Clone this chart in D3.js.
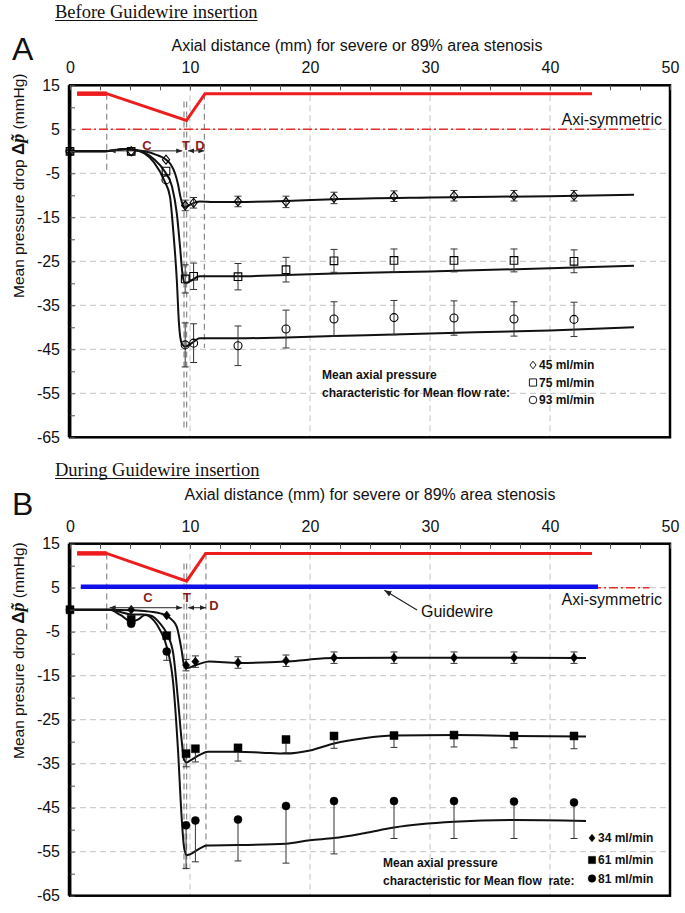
<!DOCTYPE html>
<html><head><meta charset="utf-8">
<script src="https://cdn.jsdelivr.net/npm/d3@7"></script>
<style>body{margin:0;background:#fff} svg{display:block}</style>
</head><body><svg id="c" width="685" height="913"></svg>
<script>
// ---------- shared axis data ----------
const xTicks = [0, 10, 20, 30, 40, 50];
const yTicks = [15, 5, -5, -15, -25, -35, -45, -55, -65];
const xGrid = [10, 20, 30, 40];

// ---------- Panel A : before guidewire insertion ----------
const aMarkX = [0, 5.1, 8, 9.6, 10.3, 14, 18, 22, 27, 32, 37, 42];
const a45 = [0, 0, -1.9, -12.3, -11.7, -11.4, -11.5, -10.6, -10.2, -10.1, -10.1, -10.1];
const a45Err = [0, 0, 0, 1.2, 1.2, 1.2, 1.3, 1.3, 1.2, 1.2, 1.2, 1.2];
const a75 = [0, 0, -4.5, -29.0, -28.4, -28.5, -26.9, -24.9, -24.8, -24.8, -24.8, -25.0];
const a75Err = [0, 0, 0, 3.2, 3.0, 3.0, 2.8, 2.6, 2.6, 2.6, 2.6, 2.6];
const a93 = [0, 0, -6.5, -44.0, -43.6, -44.2, -40.4, -38.1, -37.8, -37.9, -38.1, -38.2];
const a93Err = [0, 0, 0, 5.0, 4.4, 4.5, 4.3, 3.9, 3.9, 3.9, 3.9, 3.9];

const a45CurveX = [0, 3, 3.8, 4.6, 5.4, 6.2, 7.2, 7.9, 8.4, 8.75, 9.0, 9.2, 9.4, 9.55, 9.75, 10.1, 10.8, 12, 14, 18, 22, 30, 40, 47];
const a45CurveY = [0, 0, 0.3, 0.5, 0.3, 0, -0.8, -1.7, -3, -5, -7.5, -10.3, -12.2, -12.7, -12.5, -12, -11.4, -11.5, -11.5, -11.3, -10.9, -10.5, -10.2, -9.9];
const a75CurveX = [0, 3, 3.8, 4.6, 5.4, 6.2, 7.0, 7.9, 8.5, 8.9, 9.17, 9.4, 9.58, 9.8, 10.2, 10.8, 12, 14, 18, 22, 30, 40, 47];
const a75CurveY = [0, 0, 0.3, 0.5, 0.3, -0.3, -1.8, -4.6, -8, -14.1, -21.7, -28.5, -29.9, -29.8, -29.2, -28.4, -28.4, -28.4, -28.1, -27.8, -27.3, -26.6, -26.0];
const a93CurveX = [0, 3, 3.8, 4.6, 5.4, 6.2, 7.0, 7.9, 8.33, 8.6, 8.9, 9.08, 9.3, 9.58, 9.8, 10.2, 10.8, 12, 14, 18, 22, 30, 40, 47];
const a93CurveY = [0, 0, 0.3, 0.5, 0.3, -0.5, -2.5, -6.9, -10.3, -17.9, -29.2, -39.1, -43.6, -44.4, -44.2, -43.5, -42.5, -42.5, -42.5, -42.3, -42.0, -41.4, -40.7, -40.0];

const aProfX = [0.6, 3.06, 9.7, 11.25, 43.5];
const aProfY = [13.1, 13.1, 7.0, 13.1, 13.1];
const aLegend = ["45 ml/min", "75 ml/min", "93 ml/min"];

// ---------- Panel B : during guidewire insertion ----------
const bMarkX = [0, 5.1, 8.06, 9.67, 10.45, 14, 18, 22, 27, 32, 37, 42];
const b34 = [0, 0, -1.3, -12.6, -11.8, -12.0, -11.6, -10.9, -10.9, -10.9, -10.9, -10.9];
const b34Err = [0, 0, 0, 1.3, 1.3, 1.3, 1.3, 1.3, 1.3, 1.3, 1.3, 1.3];
const b61 = [0, -2.2, -5.9, -32.7, -31.6, -31.4, -29.5, -28.7, -28.6, -28.5, -28.7, -28.7];
const b61ErrLow = [0, 0, 0, 3, 3, 3, 3, 2.8, 2.7, 2.7, 2.7, 2.9];
const b81 = [0, -3.2, -9.5, -49.0, -47.9, -47.7, -44.6, -43.5, -43.5, -43.5, -43.6, -43.8];
const b81ErrLow = [0, 0, 2, 9.8, 9.4, 9.4, 13, 12, 8.5, 8.5, 8.4, 8.2];

const b34CurveX = [0, 3.3, 5.1, 6.2, 6.9, 7.6, 8.06, 8.5, 8.9, 9.3, 9.5, 9.67, 9.9, 10.3, 10.9, 11.6, 14, 18, 20, 22, 27, 32, 37, 43];
const b34CurveY = [0, 0, -0.1, -0.3, -0.5, -0.9, -1.4, -2.3, -3.9, -9.2, -12.6, -13.3, -13.2, -12.8, -12.2, -11.8, -12.1, -11.8, -11.3, -11.0, -10.9, -10.9, -10.9, -11.0];
const b61CurveX = [0, 3.3, 4.2, 5.1, 6.0, 6.7, 7.5, 8.06, 8.6, 9.0, 9.3, 9.5, 9.72, 10.0, 10.8, 11.5, 14, 16, 18, 20, 22, 24.5, 27, 32, 37, 43];
const b61CurveY = [0, 0, -0.5, -1.1, -1.1, -1.3, -3.1, -5.4, -9.9, -20.5, -29.6, -34.1, -34.7, -34.3, -33.0, -32.3, -32.3, -32.5, -32.7, -32.0, -30.4, -29.2, -28.6, -28.5, -28.7, -28.8];
const b81CurveX = [0, 3.3, 4.2, 5.1, 5.7, 6.25, 7.0, 7.5, 8.06, 8.6, 9.0, 9.3, 9.5, 9.72, 10.0, 10.8, 11.4, 14, 18, 20, 22, 24.5, 27, 32, 37, 43];
const b81CurveY = [0, 0, -1.2, -2.7, -2.2, -1.2, -2.5, -4.6, -8.4, -16.7, -31.9, -47, -53.9, -55.8, -55.6, -54.3, -53.6, -53.5, -53.2, -52.4, -51.9, -50.8, -49.5, -48.2, -47.8, -48.0];

const bProfX = [0.6, 3.06, 9.72, 11.3, 43.5];
const bProfY = [12.8, 12.8, 6.5, 12.8, 12.8];
const bWireX = [0.9, 44];
const bLegend = ["34 ml/min", "61 ml/min", "81 ml/min"];

// ---------- drawing ----------
const SANS = '"Liberation Sans",Arial,sans-serif';
const SERIF = '"Liberation Serif","Times New Roman",serif';
const svg = d3.select('#c').style('font-family', SANS);
svg.append('rect').attr('width', 685).attr('height', 913).attr('fill', '#fff');
const defs = svg.append('defs');
defs.append('marker').attr('id', 'arr').attr('viewBox', '0 0 10 10')
  .attr('refX', 10).attr('refY', 5).attr('markerWidth', 6).attr('markerHeight', 6)
  .attr('orient', 'auto-start-reverse')
  .append('path').attr('d', 'M0,1 L10,5 L0,9 z').attr('fill', '#222');

const x = d3.scaleLinear().domain([0, 50]).range([70, 670]);
const zip = (xs, ys) => xs.map((v, i) => [v, ys[i]]);

function shape(kind, r) {
  if (kind === 'diamond') return `M0,${-r} L${r * 0.8},0 L0,${r} L${-r * 0.8},0 Z`;
  if (kind === 'square') return `M${-r},${-r} H${r} V${r} H${-r} Z`;
  return d3.arc()({innerRadius: 0, outerRadius: r, startAngle: 0, endAngle: 2 * Math.PI});
}

function drawPanel(o) {
  const g = svg.append('g');
  const y = d3.scaleLinear().domain([-65, 15]).range([o.yBottom, o.yTop]);

  // grid
  g.selectAll('.hg').data(yTicks.filter(v => v > -65 && v < 15)).join('line')
    .attr('x1', x(0)).attr('x2', x(50)).attr('y1', d => y(d)).attr('y2', d => y(d))
    .attr('stroke', '#c4c4c4').attr('stroke-width', 1).attr('stroke-dasharray', '6,4');
  g.selectAll('.vg').data(xGrid).join('line')
    .attr('x1', d => x(d)).attr('x2', d => x(d)).attr('y1', y(15)).attr('y2', y(-65))
    .attr('stroke', '#c4c4c4').attr('stroke-width', 1).attr('stroke-dasharray', '6,4');

  // structural dashed lines
  const sl = (xv, y1, y2) => g.append('line').attr('x1', x(xv)).attr('x2', x(xv))
    .attr('y1', y(y1)).attr('y2', y(y2)).attr('stroke', '#8a8a8a').attr('stroke-width', 1.2)
    .attr('stroke-dasharray', '6,4');
  sl(3.06, o.profTop, -4.5);
  o.tLines.forEach(t => sl(t, o.tTop, o.tBottom));
  sl(o.dLine, o.profTop, o.dBottom);

  // axisymmetric dash-dot
  g.append('line').attr('x1', x(1.0)).attr('x2', x(48.3)).attr('y1', y(5)).attr('y2', y(5))
    .attr('stroke', '#e8302a').attr('stroke-width', 1.5).attr('stroke-dasharray', '9,3,2,3');
  if (o.wire) {
    g.append('line').attr('x1', x(o.wire[0])).attr('x2', x(o.wire[1])).attr('y1', y(5.2)).attr('y2', y(5.2))
      .attr('stroke', '#1010e8').attr('stroke-width', 4.5);
  }
  // stenosis profile
  const line = d3.line().x(d => x(d[0])).y(d => y(d[1]));
  const prof = zip(o.profX, o.profY);
  g.append('path').attr('d', line(prof)).attr('fill', 'none').attr('stroke', '#ee1c1c').attr('stroke-width', 3);
  g.append('path').attr('d', line(prof.slice(0, 2))).attr('fill', 'none').attr('stroke', '#ee1c1c').attr('stroke-width', 4.5);

  // curves
  const cl = d3.line().x(d => x(d[0])).y(d => y(d[1])).curve(d3.curveMonotoneX);
  o.curves.forEach(c => g.append('path').attr('d', cl(zip(c[0], c[1])))
    .attr('fill', 'none').attr('stroke', '#111').attr('stroke-width', 2));

  // error bars + markers
  o.series.forEach(s => {
    o.markX.forEach((xv, i) => {
      const up = s.errUp ? s.errUp[i] : 0, lo = s.errLow ? s.errLow[i] : 0;
      if (up > 0 || lo > 0) {
        const y1 = y(s.vals[i] + up), y2 = y(s.vals[i] - lo);
        g.append('line').attr('x1', x(xv)).attr('x2', x(xv)).attr('y1', y1).attr('y2', y2)
          .attr('stroke', '#333').attr('stroke-width', 1);
        if (up > 0) g.append('line').attr('x1', x(xv) - 3.5).attr('x2', x(xv) + 3.5).attr('y1', y1).attr('y2', y1).attr('stroke', '#333');
        if (lo > 0) g.append('line').attr('x1', x(xv) - 3.5).attr('x2', x(xv) + 3.5).attr('y1', y2).attr('y2', y2).attr('stroke', '#333');
      }
    });
    g.selectAll(null).data(o.markX.map((xv, i) => [xv, s.vals[i]])).join('path')
      .attr('d', shape(s.kind, s.r))
      .attr('transform', d => `translate(${x(d[0])},${y(d[1])})`)
      .attr('fill', o.filled ? '#000' : 'none').attr('stroke', '#000').attr('stroke-width', o.filled ? 0.5 : 1.1);
  });

  // C T D annotations
  const aY = y(o.arrowV);
  g.append('line').attr('x1', x(3.3)).attr('x2', x(9.35)).attr('y1', aY).attr('y2', aY)
    .attr('stroke', '#222').attr('stroke-width', 1).attr('marker-start', 'url(#arr)').attr('marker-end', 'url(#arr)');
  g.append('line').attr('x1', x(9.85)).attr('x2', x(o.dLine)).attr('y1', aY).attr('y2', aY)
    .attr('stroke', '#222').attr('stroke-width', 1).attr('marker-start', 'url(#arr)').attr('marker-end', 'url(#arr)');
  o.labels.forEach(l => g.append('text').attr('x', l[1]).attr('y', l[2]).text(l[0])
    .attr('fill', '#8b1c1c').attr('font-weight', 'bold').attr('font-size', 13).attr('text-anchor', 'middle'));

  // frame
  g.append('rect').attr('x', x(0)).attr('y', y(15)).attr('width', x(50) - x(0)).attr('height', y(-65) - y(15))
    .attr('fill', 'none').attr('stroke', '#000').attr('stroke-width', 2.5);
  g.append('line').attr('x1', x(0) - 0.5).attr('x2', x(0) - 0.5).attr('y1', y(15)).attr('y2', y(-65))
    .attr('stroke', '#000').attr('stroke-width', 3.5);

  // minor ticks (inside)
  const minorX = d3.range(0, 50.01, 2.5);
  g.append('g').attr('transform', `translate(0,${y(15)})`)
    .call(d3.axisTop(x).tickValues(minorX).tickSize(-5).tickFormat(''))
    .call(a => { a.select('.domain').remove(); a.selectAll('line').attr('stroke', '#555'); });
  g.append('g').attr('transform', `translate(${x(0)},0)`)
    .call(d3.axisLeft(y).tickValues(d3.range(-65, 15.01, 5)).tickSize(-5).tickFormat(''))
    .call(a => { a.select('.domain').remove(); a.selectAll('line').attr('stroke', '#555'); });

  // labelled axes
  g.append('g').attr('transform', `translate(0,${y(15)})`)
    .call(d3.axisTop(x).tickValues(xTicks).tickSize(0).tickPadding(12).tickFormat(d => String(d)))
    .call(a => { a.select('.domain').remove(); a.attr('font-family', SANS).attr('font-size', 16);
      a.selectAll('text').attr('fill', '#111'); });
  g.append('g').attr('transform', `translate(${x(0)},0)`)
    .call(d3.axisLeft(y).tickValues(yTicks).tickSize(0).tickPadding(10).tickFormat(d => String(d)))
    .call(a => { a.select('.domain').remove(); a.attr('font-family', SANS).attr('font-size', 16);
      a.selectAll('text').attr('fill', '#111'); });

  // axis title (top)
  g.append('text').attr('x', o.titleX).attr('y', o.titleY).attr('text-anchor', 'middle')
    .attr('font-size', 16).attr('fill', '#111').text('Axial distance (mm) for severe or 89% area stenosis');

  // y title
  const yt = g.append('text').attr('transform', `translate(24,${o.yTitleStart}) rotate(-90)`)
    .attr('font-size', 15.5).attr('fill', '#111');
  yt.append('tspan').text(o.yWord + '  ');
  yt.append('tspan').text('Δ').attr('font-weight', 'bold').attr('font-size', 17);
  yt.append('tspan').text('p̃').attr('font-weight', 'bold').attr('font-style', 'italic').attr('font-size', 18)
    .attr('font-family', SERIF);
  yt.append('tspan').text(' (mmHg)');

  // panel letter & heading
  g.append('text').attr('x', 12).attr('y', o.letterY).attr('font-size', 32).attr('fill', '#111').text(o.letter);
  const h = g.append('text').attr('x', 55).attr('y', o.headY).attr('font-size', 18.5)
    .attr('font-family', SERIF).attr('fill', '#111').text(o.heading);
  const hw = h.node().getComputedTextLength();
  g.append('line').attr('x1', 55).attr('x2', 55 + hw).attr('y1', o.headY + 2.5).attr('y2', o.headY + 2.5)
    .attr('stroke', '#111').attr('stroke-width', 1);

  // Axi-symmetric label
  g.append('text').attr('x', 662).attr('y', o.axiY).attr('text-anchor', 'end').attr('font-size', 16)
    .attr('fill', '#111').text('Axi-symmetric');

  // legend
  const L = o.legend;
  g.append('text').attr('x', L.textX).attr('y', L.textY).attr('font-size', 12).attr('font-weight', 'bold')
    .attr('fill', '#111').text('Mean axial pressure');
  g.append('text').attr('x', L.textX).attr('y', L.textY + 18).attr('font-size', 12).attr('font-weight', 'bold')
    .attr('fill', '#111').attr('xml:space', 'preserve').text(L.line2);
  o.series.forEach((s, i) => {
    const ly = L.ys[i];
    g.append('path').attr('d', shape(s.kind, s.kind === 'square' ? 3.6 : 3.8))
      .attr('transform', `translate(${L.symX},${ly - 4})`)
      .attr('fill', o.filled ? '#000' : 'none').attr('stroke', '#000').attr('stroke-width', o.filled ? 0.5 : 0.9);
    g.append('text').attr('x', L.symX + 6).attr('y', ly).attr('font-size', 12).attr('font-weight', 'bold')
      .attr('fill', '#111').text(o.legendText[i]);
  });
  return y;
}

drawPanel({
  yTop: 85.3, yBottom: 437.3, letter: 'A', letterY: 60, heading: 'Before Guidewire insertion', headY: 18,
  titleX: 357, titleY: 51, yWord: 'Mean pressure drop', yTitleStart: 298, axiY: 125,
  profX: aProfX, profY: aProfY, profTop: 13.1, tLines: [9.5, 9.72], tTop: 11.3, tBottom: -63, dLine: 11.2, dBottom: -44.7,
  arrowV: 0.1,
  labels: [['C', 147, 150], ['T', 186, 150], ['D', 200, 150]],
  markX: aMarkX, filled: false,
  curves: [[a45CurveX, a45CurveY], [a75CurveX, a75CurveY], [a93CurveX, a93CurveY]],
  series: [
    {vals: a45, errUp: a45Err, errLow: a45Err, kind: 'diamond', r: 4.5},
    {vals: a75, errUp: a75Err, errLow: a75Err, kind: 'square', r: 3.8},
    {vals: a93, errUp: a93Err, errLow: a93Err, kind: 'circle', r: 4}
  ],
  legendText: aLegend,
  legend: {textX: 322, textY: 379, line2: 'characteristic for Mean flow rate:', symX: 533, ys: [369, 386.5, 404]}
});

drawPanel({
  yTop: 543.7, yBottom: 895.7, letter: 'B', letterY: 515, heading: 'During Guidewire insertion', headY: 476,
  titleX: 370, titleY: 500, yWord: 'Mean presure drop', yTitleStart: 759, axiY: 605,
  profX: bProfX, profY: bProfY, profTop: 12.8, tLines: [9.5, 9.72], tTop: 10.5, tBottom: -59.5, dLine: 11.33, dBottom: -55.3,
  arrowV: 0.45, wire: bWireX,
  labels: [['C', 148, 602], ['T', 187, 602], ['D', 214, 610]],
  markX: bMarkX, filled: true,
  curves: [[b34CurveX, b34CurveY], [b61CurveX, b61CurveY], [b81CurveX, b81CurveY]],
  series: [
    {vals: b34, errUp: b34Err, errLow: b34Err, kind: 'diamond', r: 4.5},
    {vals: b61, errLow: b61ErrLow, kind: 'square', r: 4},
    {vals: b81, errLow: b81ErrLow, kind: 'circle', r: 4}
  ],
  legendText: bLegend,
  legend: {textX: 383, textY: 866.5, line2: 'characteristic for Mean flow  rate:', symX: 592, ys: [842, 864, 882.5]}
});

// Guidewire annotation (panel B)
const yB = d3.scaleLinear().domain([-65, 15]).range([895.7, 543.7]);
svg.append('line').attr('x1', 417).attr('y1', 610).attr('x2', x(26.2)).attr('y2', yB(4.4))
  .attr('stroke', '#222').attr('stroke-width', 1.2).attr('marker-end', 'url(#arr)');
svg.append('text').attr('x', 421).attr('y', 617).attr('font-size', 16).attr('fill', '#111').text('Guidewire');
</script></body></html>
